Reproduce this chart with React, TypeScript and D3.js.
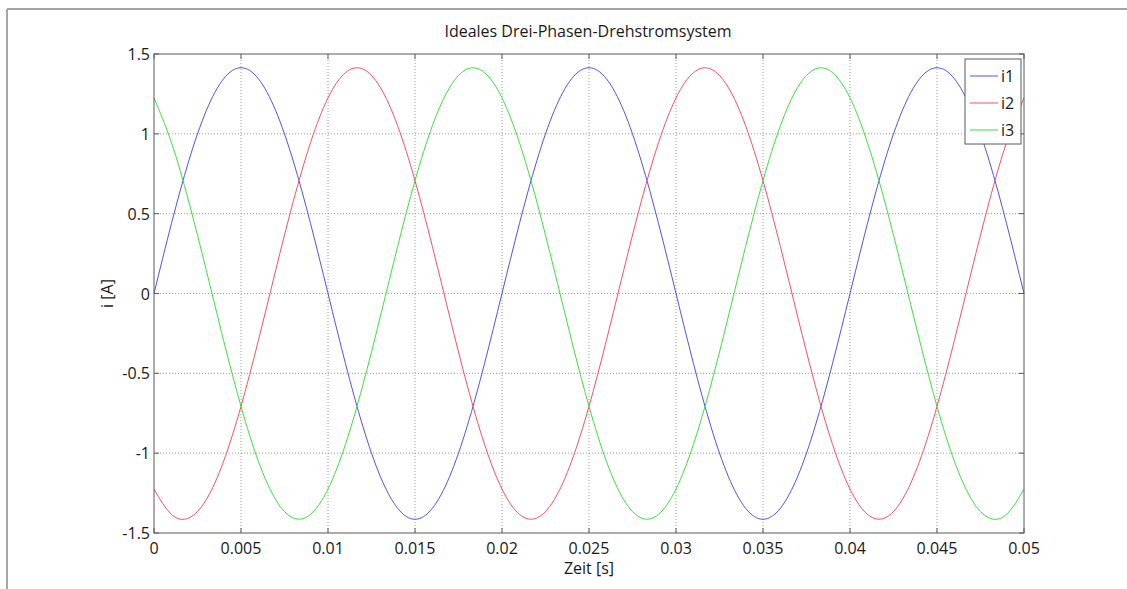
import React from "react";
import * as d3 from "d3";

const title = "Ideales Drei-Phasen-Drehstromsystem";
const xLabel = "Zeit [s]";
const yLabel = "i [A]";
const seriesNames = ["i1", "i2", "i3"];
const seriesColors = ["#5050ff", "#ff4a66", "#3ae03a"];

const xTicks = [0, 0.005, 0.01, 0.015, 0.02, 0.025, 0.03, 0.035, 0.04, 0.045, 0.05];
const xTickLabels = ["0", "0.005", "0.01", "0.015", "0.02", "0.025", "0.03", "0.035", "0.04", "0.045", "0.05"];
const yTicks = [-1.5, -1, -0.5, 0, 0.5, 1, 1.5];
const yTickLabels = ["-1.5", "-1", "-0.5", "0", "0.5", "1", "1.5"];

const time = [
  0, 0.001, 0.002, 0.003, 0.004, 0.005, 0.006, 0.007, 0.008, 0.009,
  0.01, 0.011, 0.012, 0.013, 0.014, 0.015, 0.016, 0.017, 0.018, 0.019,
  0.02, 0.021, 0.022, 0.023, 0.024, 0.025, 0.026, 0.027, 0.028, 0.029,
  0.03, 0.031, 0.032, 0.033, 0.034, 0.035, 0.036, 0.037, 0.038, 0.039,
  0.04, 0.041, 0.042, 0.043, 0.044, 0.045, 0.046, 0.047, 0.048, 0.049, 0.05,
];

const i1 = [
  0, 0.437, 0.831, 1.144, 1.345, 1.414, 1.345, 1.144, 0.831, 0.437,
  0, -0.437, -0.831, -1.144, -1.345, -1.414, -1.345, -1.144, -0.831, -0.437,
  0, 0.437, 0.831, 1.144, 1.345, 1.414, 1.345, 1.144, 0.831, 0.437,
  0, -0.437, -0.831, -1.144, -1.345, -1.414, -1.345, -1.144, -0.831, -0.437,
  0, 0.437, 0.831, 1.144, 1.345, 1.414, 1.345, 1.144, 0.831, 0.437, 0,
];

const i2 = [
  -1.225, -1.383, -1.406, -1.292, -1.051, -0.707, -0.294, 0.148, 0.575, 0.946,
  1.225, 1.383, 1.406, 1.292, 1.051, 0.707, 0.294, -0.148, -0.575, -0.946,
  -1.225, -1.383, -1.406, -1.292, -1.051, -0.707, -0.294, 0.148, 0.575, 0.946,
  1.225, 1.383, 1.406, 1.292, 1.051, 0.707, 0.294, -0.148, -0.575, -0.946,
  -1.225, -1.383, -1.406, -1.292, -1.051, -0.707, -0.294, 0.148, 0.575, 0.946, 1.225,
];

const i3 = [
  1.225, 0.946, 0.575, 0.148, -0.294, -0.707, -1.051, -1.292, -1.406, -1.383,
  -1.225, -0.946, -0.575, -0.148, 0.294, 0.707, 1.051, 1.292, 1.406, 1.383,
  1.225, 0.946, 0.575, 0.148, -0.294, -0.707, -1.051, -1.292, -1.406, -1.383,
  -1.225, -0.946, -0.575, -0.148, 0.294, 0.707, 1.051, 1.292, 1.406, 1.383,
  1.225, 0.946, 0.575, 0.148, -0.294, -0.707, -1.051, -1.292, -1.406, -1.383, -1.225,
];

const W = 1127;
const H = 589;
const plot = { left: 154, top: 54, right: 1024, bottom: 533 };
const FONT = "'Open Sans', 'Noto Sans', sans-serif";
const FS = 16;

export default function App() {
  const x = d3.scaleLinear().domain([0, 0.05]).range([plot.left, plot.right]);
  const y = d3.scaleLinear().domain([-1.5, 1.5]).range([plot.bottom, plot.top]);
  const series = [i1, i2, i3];
  const line = d3
    .line<number>()
    .x((_, k) => x(time[k]))
    .y((v) => y(v))
    .curve(d3.curveNatural);

  const gridColor = "#9a9a9a";
  const axisColor = "#5a5a5a";
  const tickLen = 5;
  const textColor = "#1a1a1a";

  return (
    <svg
      width={W}
      height={H}
      style={{ position: "absolute", left: 0, top: 0, background: "#fff" }}
      fontFamily={FONT}
    >
      <rect x={0} y={0} width={W} height={H} fill="#fff" />
      {/* outer frame */}
      <line x1={7} y1={9} x2={W} y2={9} stroke="#a6a6a6" strokeWidth={2} />
      <line x1={7} y1={9} x2={7} y2={H} stroke="#a6a6a6" strokeWidth={2} />

      {/* grid */}
      {xTicks.slice(1, -1).map((t, k) => (
        <line
          key={"gx" + k}
          x1={x(t)}
          x2={x(t)}
          y1={plot.top}
          y2={plot.bottom}
          stroke={gridColor}
          strokeWidth={1}
          strokeDasharray="1,2"
        />
      ))}
      {yTicks.slice(1, -1).map((t, k) => (
        <line
          key={"gy" + k}
          x1={plot.left}
          x2={plot.right}
          y1={y(t)}
          y2={y(t)}
          stroke={gridColor}
          strokeWidth={1}
          strokeDasharray="1,2"
        />
      ))}

      {/* series */}
      {series.map((s, k) => (
        <path key={"s" + k} d={line(s) || ""} fill="none" stroke={seriesColors[k]} strokeWidth={1} />
      ))}

      {/* frame */}
      <rect
        x={plot.left}
        y={plot.top}
        width={plot.right - plot.left}
        height={plot.bottom - plot.top}
        fill="none"
        stroke={axisColor}
        strokeWidth={1}
      />

      {/* ticks */}
      {xTicks.map((t, k) => (
        <g key={"tx" + k}>
          <line x1={x(t)} x2={x(t)} y1={plot.bottom} y2={plot.bottom - tickLen} stroke={axisColor} />
          <line x1={x(t)} x2={x(t)} y1={plot.top} y2={plot.top + tickLen} stroke={axisColor} />
          <text x={x(t)} y={554} textAnchor="middle" fontSize={FS} fill={textColor}>
            {xTickLabels[k]}
          </text>
        </g>
      ))}
      {yTicks.map((t, k) => (
        <g key={"ty" + k}>
          <line x1={plot.left} x2={plot.left + tickLen} y1={y(t)} y2={y(t)} stroke={axisColor} />
          <line x1={plot.right} x2={plot.right - tickLen} y1={y(t)} y2={y(t)} stroke={axisColor} />
          <text x={150} y={y(t) + 6} textAnchor="end" fontSize={FS} fill={textColor}>
            {yTickLabels[k]}
          </text>
        </g>
      ))}

      {/* labels */}
      <text x={589} y={574} textAnchor="middle" fontSize={FS} fill={textColor}>
        {xLabel}
      </text>
      <text
        transform={`translate(113, ${y(0)}) rotate(-90)`}
        textAnchor="middle"
        fontSize={FS}
        fill={textColor}
      >
        {yLabel}
      </text>
      <text x={588} y={37} textAnchor="middle" fontSize={FS} fill={textColor}>
        {title}
      </text>

      {/* legend */}
      <g>
        <rect x={965} y={59} width={56} height={85} fill="#fff" stroke={axisColor} strokeWidth={1} />
        {seriesNames.map((n, k) => (
          <g key={"lg" + k}>
            <line
              x1={970}
              x2={998}
              y1={76 + k * 27}
              y2={76 + k * 27}
              stroke={seriesColors[k]}
              strokeWidth={1}
            />
            <text x={1001} y={76 + k * 27 + 6} fontSize={FS} fill={textColor}>
              {n}
            </text>
          </g>
        ))}
      </g>
    </svg>
  );
}
